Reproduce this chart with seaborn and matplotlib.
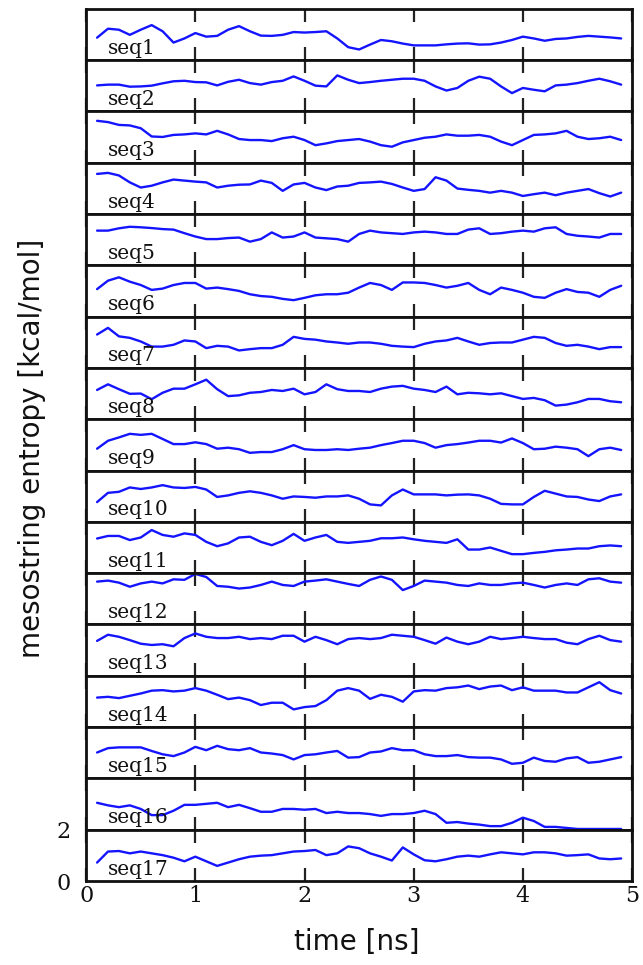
import numpy as np
import pandas as pd
import matplotlib
matplotlib.use('Agg')
import matplotlib.pyplot as plt
import seaborn as sns

# time grid [ns]
time_ns = np.round(np.arange(1, 50) * 0.1, 1)

# mesostring entropy [kcal/mol]
seq1 = [0.87, 1.22, 1.18, 0.98, 1.18, 1.36, 1.12, 0.68, 0.84, 1.05,
        0.91, 0.94, 1.18, 1.32, 1.12, 0.95, 0.94, 0.98, 1.09, 1.07,
        1.09, 1.12, 0.84, 0.50, 0.41, 0.60, 0.78, 0.73, 0.64, 0.57,
        0.57, 0.57, 0.61, 0.64, 0.65, 0.60, 0.61, 0.68, 0.78, 0.91,
        0.84, 0.75, 0.82, 0.84, 0.90, 0.94, 0.91, 0.88, 0.84]
seq2 = [1.01, 1.04, 1.04, 0.96, 0.97, 1.00, 1.09, 1.17, 1.19, 1.14,
        1.13, 1.01, 1.15, 1.23, 1.10, 1.04, 1.14, 1.19, 1.36, 1.19,
        1.00, 0.97, 1.40, 1.23, 1.10, 1.14, 1.19, 1.23, 1.27, 1.27,
        1.19, 0.97, 0.81, 0.91, 1.19, 1.35, 1.27, 0.97, 0.71, 0.91,
        0.84, 0.78, 1.01, 1.04, 1.10, 1.19, 1.27, 1.17, 1.04]
seq3 = [1.63, 1.58, 1.47, 1.45, 1.34, 1.02, 1.00, 1.08, 1.10, 1.14,
        1.10, 1.24, 1.10, 0.92, 0.88, 0.88, 0.84, 0.95, 1.01, 0.88,
        0.68, 0.75, 0.84, 0.88, 0.92, 0.82, 0.68, 0.62, 0.79, 0.88,
        0.97, 1.01, 1.10, 1.05, 1.05, 1.08, 1.01, 0.82, 0.68, 0.88,
        1.08, 1.10, 1.14, 1.24, 1.01, 0.92, 0.95, 1.01, 0.88]
seq4 = [1.56, 1.60, 1.50, 1.23, 1.03, 1.10, 1.23, 1.34, 1.30, 1.26,
        1.23, 1.03, 1.10, 1.14, 1.15, 1.30, 1.21, 0.90, 1.15, 1.21,
        1.03, 0.93, 1.07, 1.10, 1.21, 1.23, 1.26, 1.17, 1.03, 0.90,
        0.97, 1.43, 1.30, 0.99, 0.94, 0.90, 0.83, 0.90, 0.83, 0.70,
        0.77, 0.83, 0.73, 0.83, 0.90, 0.97, 0.81, 0.68, 0.83]
seq5 = [1.35, 1.35, 1.44, 1.50, 1.48, 1.45, 1.41, 1.39, 1.25, 1.12,
        1.02, 1.02, 1.06, 1.08, 0.92, 1.02, 1.28, 1.08, 1.12, 1.28,
        1.08, 1.05, 1.02, 0.92, 1.22, 1.35, 1.28, 1.25, 1.22, 1.28,
        1.31, 1.28, 1.22, 1.22, 1.39, 1.44, 1.22, 1.25, 1.31, 1.35,
        1.31, 1.44, 1.48, 1.22, 1.15, 1.12, 1.08, 1.22, 1.22]
seq6 = [1.07, 1.40, 1.53, 1.36, 1.23, 1.04, 1.09, 1.23, 1.31, 1.31,
        1.09, 1.13, 1.07, 1.00, 0.87, 0.80, 0.77, 0.69, 0.64, 0.73,
        0.83, 0.87, 0.87, 0.93, 1.13, 1.31, 1.23, 1.04, 1.33, 1.33,
        1.31, 1.23, 1.13, 1.20, 1.31, 1.04, 0.87, 1.13, 1.04, 0.93,
        0.77, 0.73, 0.93, 1.07, 0.96, 0.93, 0.77, 1.04, 1.20]
seq7 = [1.30, 1.56, 1.23, 1.17, 1.03, 0.83, 0.83, 0.90, 1.07, 1.03,
        0.77, 0.86, 0.83, 0.68, 0.73, 0.77, 0.77, 0.90, 1.21, 1.13,
        1.10, 1.03, 0.99, 0.94, 0.99, 0.99, 0.94, 0.86, 0.83, 0.81,
        0.94, 1.03, 1.07, 1.17, 1.03, 0.90, 0.97, 0.99, 0.99, 1.10,
        1.21, 1.17, 0.97, 0.86, 0.90, 0.83, 0.73, 0.81, 0.81]
seq8 = [1.14, 1.36, 1.17, 0.99, 1.00, 0.78, 1.03, 1.19, 1.19, 1.36,
        1.54, 1.17, 0.90, 0.93, 1.03, 1.06, 1.14, 1.10, 1.19, 0.97,
        1.06, 1.36, 1.17, 1.10, 1.10, 1.06, 1.19, 1.27, 1.30, 1.19,
        1.14, 1.06, 1.27, 0.97, 1.03, 1.01, 0.97, 1.01, 0.90, 0.79,
        0.83, 0.74, 0.53, 0.57, 0.66, 0.79, 0.79, 0.70, 0.66]
seq9 = [0.85, 1.16, 1.29, 1.43, 1.39, 1.43, 1.23, 1.03, 1.03, 1.10,
        1.03, 0.85, 0.89, 0.83, 0.69, 0.72, 0.72, 0.83, 0.99, 0.83,
        0.80, 0.80, 0.83, 0.80, 0.85, 0.89, 0.99, 1.07, 1.16, 1.16,
        1.07, 0.89, 0.99, 1.03, 1.09, 1.16, 1.16, 1.09, 1.25, 1.07,
        0.83, 0.85, 0.93, 0.89, 0.83, 0.56, 0.83, 0.89, 0.80]
seq10 = [0.77, 1.13, 1.17, 1.34, 1.28, 1.34, 1.43, 1.34, 1.32, 1.36,
         1.26, 0.97, 1.03, 1.13, 1.19, 1.13, 1.03, 0.90, 0.99, 0.97,
         0.94, 0.99, 0.99, 1.03, 0.90, 0.68, 0.64, 1.03, 1.26, 1.07,
         1.07, 1.07, 1.03, 1.06, 1.07, 1.03, 0.90, 0.70, 0.68, 0.68,
         0.97, 1.21, 1.10, 0.99, 0.97, 0.87, 0.81, 0.99, 1.07]
seq11 = [1.35, 1.45, 1.45, 1.29, 1.39, 1.68, 1.49, 1.42, 1.55, 1.49,
         1.22, 1.05, 1.16, 1.39, 1.42, 1.22, 1.09, 1.26, 1.53, 1.26,
         1.39, 1.49, 1.22, 1.18, 1.22, 1.26, 1.36, 1.36, 1.39, 1.32,
         1.26, 1.22, 1.18, 1.32, 0.92, 0.92, 1.00, 0.87, 0.74, 0.74,
         0.79, 0.83, 0.89, 0.92, 0.96, 0.96, 1.05, 1.08, 1.05]
seq12 = [1.67, 1.71, 1.63, 1.47, 1.60, 1.67, 1.60, 1.76, 1.74, 1.97,
         1.85, 1.50, 1.47, 1.40, 1.44, 1.54, 1.67, 1.54, 1.50, 1.67,
         1.71, 1.76, 1.67, 1.58, 1.50, 1.74, 1.87, 1.74, 1.34, 1.50,
         1.71, 1.67, 1.63, 1.54, 1.50, 1.60, 1.54, 1.54, 1.60, 1.63,
         1.54, 1.44, 1.54, 1.60, 1.54, 1.76, 1.80, 1.67, 1.63]
seq13 = [1.36, 1.60, 1.52, 1.39, 1.25, 1.20, 1.23, 1.15, 1.47, 1.65,
         1.52, 1.47, 1.47, 1.52, 1.43, 1.47, 1.43, 1.56, 1.56, 1.33,
         1.52, 1.39, 1.23, 1.43, 1.47, 1.43, 1.47, 1.60, 1.56, 1.52,
         1.39, 1.25, 1.49, 1.33, 1.23, 1.33, 1.52, 1.43, 1.47, 1.52,
         1.47, 1.43, 1.43, 1.29, 1.23, 1.43, 1.56, 1.39, 1.33]
seq14 = [1.15, 1.18, 1.13, 1.22, 1.31, 1.42, 1.44, 1.39, 1.42, 1.52,
         1.42, 1.26, 1.09, 1.15, 1.05, 0.86, 0.95, 0.95, 0.69, 0.78,
         0.82, 1.05, 1.42, 1.52, 1.42, 1.10, 1.26, 1.18, 0.99, 1.39,
         1.44, 1.42, 1.52, 1.55, 1.62, 1.48, 1.58, 1.62, 1.44, 1.55,
         1.42, 1.42, 1.42, 1.35, 1.35, 1.55, 1.75, 1.44, 1.31]
seq15 = [1.01, 1.18, 1.21, 1.21, 1.21, 1.07, 0.94, 0.87, 1.01, 1.23,
         1.10, 1.27, 1.14, 1.10, 1.18, 1.01, 0.97, 0.91, 0.74, 0.91,
         0.94, 1.01, 1.07, 0.81, 0.83, 1.01, 1.05, 1.18, 1.10, 1.10,
         0.94, 0.87, 0.87, 0.91, 0.83, 0.81, 0.81, 0.74, 0.57, 0.61,
         0.81, 0.68, 0.65, 0.78, 0.83, 0.61, 0.65, 0.74, 0.83]
seq16 = [1.05, 0.95, 0.88, 0.95, 0.81, 0.57, 0.57, 0.74, 0.97, 0.97,
         1.01, 1.05, 0.88, 0.97, 0.84, 0.70, 0.70, 0.81, 0.81, 0.78,
         0.81, 0.65, 0.70, 0.65, 0.65, 0.61, 0.54, 0.61, 0.61, 0.65,
         0.74, 0.61, 0.27, 0.30, 0.24, 0.20, 0.14, 0.14, 0.27, 0.47,
         0.34, 0.11, 0.11, 0.07, 0.03, 0.03, 0.03, 0.03, 0.03]
seq17 = [0.72, 1.15, 1.17, 1.08, 1.15, 1.08, 1.01, 0.91, 0.77, 0.95,
         0.77, 0.59, 0.72, 0.85, 0.95, 0.99, 1.01, 1.08, 1.15, 1.17,
         1.21, 1.01, 1.08, 1.35, 1.28, 1.08, 0.95, 0.80, 1.31, 1.04,
         0.81, 0.77, 0.85, 0.95, 0.99, 0.95, 1.04, 1.12, 1.08, 1.04,
         1.12, 1.12, 1.08, 0.99, 1.01, 1.04, 0.88, 0.85, 0.88]

series = [seq1, seq2, seq3, seq4, seq5, seq6, seq7, seq8, seq9,
          seq10, seq11, seq12, seq13, seq14, seq15, seq16, seq17]
names = ['seq%d' % i for i in range(1, 18)]

sns.set_style('ticks')

fig, axes = plt.subplots(len(series), 1, figsize=(6.43, 9.65), dpi=100, sharex=True)
fig.subplots_adjust(left=0.134, right=0.983, top=0.991, bottom=0.087, hspace=0)

for ax, name, vals in zip(axes, names, series):
    df = pd.DataFrame({'time': time_ns, 'entropy': vals})
    sns.lineplot(data=df, x='time', y='entropy', ax=ax, color='#1414ff',
                 linewidth=1.7, estimator=None)
    ax.set_xlim(0, 5)
    ax.set_ylim(0, 2)
    ax.set_xlabel('')
    ax.set_ylabel('')
    ax.text(0.2, 0.25, name, family='DejaVu Serif', fontsize=14.5, color='#111111')
    ax.set_xticks([0, 1, 2, 3, 4, 5])
    ax.tick_params(axis='x', direction='in', top=True, bottom=True,
                   length=9.5, width=1.6, color='#222222')
    ax.set_yticks([])
    for sp in ax.spines.values():
        sp.set_linewidth(2)
        sp.set_color('#111111')

# bottom panel carries the tick labels
last = axes[-1]
last.set_yticks([0, 2])
last.tick_params(axis='y', length=0, pad=11, labelsize=16, labelcolor='#111111')
last.tick_params(axis='x', labelsize=16, pad=3, labelcolor='#111111')
for lab in last.get_xticklabels() + last.get_yticklabels():
    lab.set_fontfamily('DejaVu Serif')

fig.text(0.555, 0.024, 'time [ns]', ha='center', va='center', fontsize=20,
         color='#111111')
fig.text(0.05, 0.535, 'mesostring entropy [kcal/mol]', ha='center', va='center',
         rotation=90, fontsize=20, color='#111111')

fig.savefig('out.png', dpi=100)
